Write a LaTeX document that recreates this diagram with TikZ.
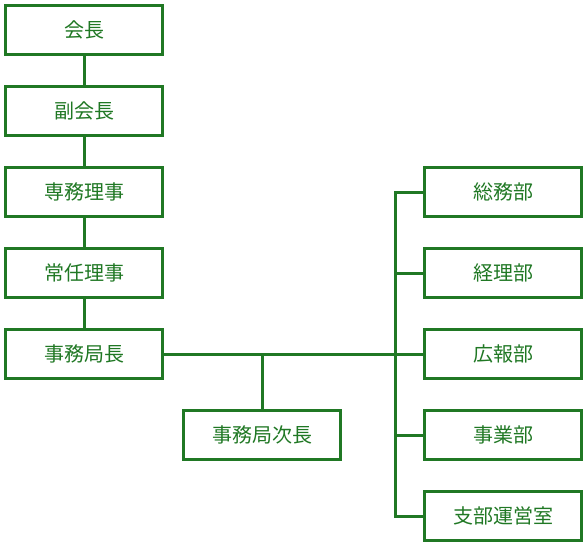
\documentclass[tikz,border=0pt]{standalone}
\usepackage{fontspec}
\newfontfamily\jp{Noto Sans CJK JP}
\usepackage{tikz}
\usetikzlibrary{positioning}

\definecolor{orggreen}{RGB}{32,120,36}
\tikzset{
  post/.style={draw=orggreen, line width=3pt, fill=white, text=orggreen,
    minimum width=157pt, minimum height=49pt, inner sep=0pt},
  link/.style={draw=orggreen, line width=3pt}
}

\begin{document}
\begin{tikzpicture}[x=1pt, y=1pt, node distance=29pt, font=\jp\fontsize{20}{24}\selectfont]
  \useasboundingbox (0,0) rectangle (588,-551);

  % left column: chain of command
  \node[post] (kaicho) at (84,-30) {会長};
  \node[post, below=of kaicho] (fukukaicho) {副会長};
  \node[post, below=of fukukaicho] (senmu) {専務理事};
  \node[post, below=of senmu] (jonin) {常任理事};
  \node[post, below=of jonin] (kyokucho) {事務局長};

  % deputy under the secretariat
  \node[post] (jicho) at (262,-435) {事務局次長};

  % right column: departments
  \node[post] (somu) at (503,-192) {総務部};
  \node[post, below=of somu] (keiri) {経理部};
  \node[post, below=of keiri] (koho) {広報部};
  \node[post, below=of koho] (jigyo) {事業部};
  \node[post, below=of jigyo] (shibu) {支部運営室};

  \coordinate (trunk) at (395,-354);

  % vertical links in the left column
  \draw[link] (kaicho) -- (fukukaicho);
  \draw[link] (fukukaicho) -- (senmu);
  \draw[link] (senmu) -- (jonin);
  \draw[link] (jonin) -- (kyokucho);

  % secretariat to departments
  \draw[link] (kyokucho) -- (koho);
  \draw[link] (jicho) -- (jicho |- kyokucho);

  % trunk with branches
  \draw[link] (somu.west) -- (somu.west -| trunk) -- (shibu.west -| trunk) -- (shibu.west);
  \draw[link] (keiri.west) -- (keiri.west -| trunk);
  \draw[link] (jigyo.west) -- (jigyo.west -| trunk);
\end{tikzpicture}
\end{document}
